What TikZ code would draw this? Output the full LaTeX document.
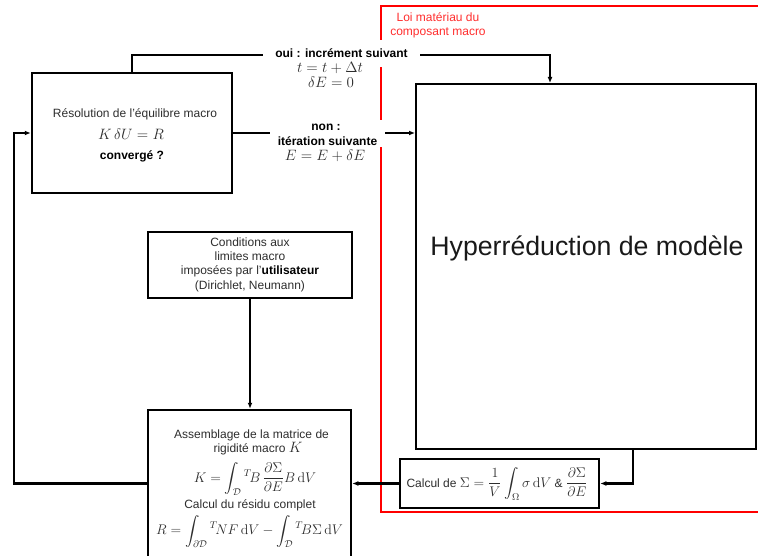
\RequirePackage{fix-cm}
\documentclass[tikz,border=0pt]{standalone}
\usepackage{amsmath}
\usepackage[no-math]{fontspec}
\setmainfont{Liberation Sans}
\usetikzlibrary{arrows.meta}
\definecolor{txt}{RGB}{45,45,45}
\definecolor{redl}{RGB}{255,0,0}
\definecolor{redt}{RGB}{255,45,45}
\newcommand{\mth}[1]{{\fontsize{15}{17}\selectfont$\displaystyle #1$}}
\newcommand{\mths}[1]{{\fontsize{14}{16}\selectfont$\displaystyle #1$}}
\begin{document}
\begin{tikzpicture}[x=1pt,y=-1pt,
  every node/.style={inner sep=0pt, text=txt, font=\fontsize{12}{14.3}\selectfont},
  boxnode/.style={draw=black, line width=2.5pt},
  bignode/.style={draw=black, line width=2pt},
  conn/.style={draw=black, line width=2.3pt, -{Latex[length=6pt,width=5pt]}},
  redframe/.style={draw=redl, line width=2.5pt},
  boldlbl/.style={text=black, font=\fontsize{12}{14.3}\selectfont\bfseries}]
\path[use as bounding box, clip] (0,0) rectangle (758,556);

% red frame
\draw[redframe] (381,6) rectangle (800,512);
\node[text=redt, align=center, font=\fontsize{12}{14.5}\selectfont] (loi) at (438,25.5) {Loi matériau du\\composant macro};

% boxes
\node[boxnode, minimum width=200pt, minimum height=120pt] (res) at (132,133) {};
\node[boxnode, minimum width=204pt, minimum height=66pt] (cond) at (250,265) {};
\node[boxnode, minimum width=203pt, minimum height=170pt] (asm) at (249.5,495) {};
\node[boxnode, minimum width=199pt, minimum height=49pt] (calc) at (499.5,483.5) {};
\node[bignode, minimum width=340pt, minimum height=365pt] (big) at (586,266.5) {};

% box texts
\node (res1) at (135,114) {Résolution de l'équilibre macro};
\node (res2) at (131,134) {\mth{K\,\delta U = R}};
\node[boldlbl] (res3) at (132,156) {convergé ?};

\node[align=center] (condt) at (250,264.5) {Conditions aux\\limites macro\\imposées par l'\textbf{\color{black}utilisateur}\\(Dirichlet, Neumann)};

\node (asm1) at (251.5,435.5) {Assemblage de la matrice de};
\node (asm2) at (258,449) {rigidité macro \mth{K}};
\node (asm3) at (255,479) {\mths{K = \int_{\mathcal{D}} {}^{T}\!B\,\frac{\partial\Sigma}{\partial E}B\,\mathrm{d}V}};
\node (asm4) at (250,505.5) {Calcul du résidu complet};
\node (asm5) at (249.5,531.5) {\mths{R = \int_{\partial\mathcal{D}} {}^{T}\!N F\,\mathrm{d}V - \int_{\mathcal{D}} {}^{T}\!B\Sigma\,\mathrm{d}V}};

\node (calct) at (497,484) {Calcul de \mths{\Sigma = \frac{1}{V}\int_{\Omega}\sigma\,\mathrm{d}V} \& \mths{\frac{\partial\Sigma}{\partial E}}};

\node[font=\fontsize{26.7}{30}\selectfont, text=black!90] (bigt) at (587,248) {Hyperréduction de modèle};

% connectors
\coordinate (topdrop) at (550,55);
\coordinate (bdrop) at (633,0);
\coordinate (lx) at (14,0);
\draw[conn] (res.north) |- (topdrop) -- (topdrop |- big.north);
\draw[conn] (res.east) -- (big.west |- res.east);
\draw[conn] (bdrop |- big.south) |- (calc.east);
\draw[conn] (calc.west) -- (asm.east |- calc.west);
\draw[conn] (cond.south) -- (cond.south |- asm.north);
\draw[conn] (asm.west |- calc.west) -| (lx |- res.west) -- (res.west);

% label backgrounds
\fill[white] (263,40) rectangle (420,67);
\fill[white] (270,120) rectangle (385,147);

% connector labels
\node[boldlbl] (oui1) at (341.5,53) {oui : incrément suivant};
\node (oui2) at (330,68) {\mth{t = t+\Delta t}};
\node (oui3) at (331,82) {\mth{\delta E = 0}};
\node[boldlbl] (non1) at (326,127.5) {non :};
\node[boldlbl] (non2) at (327.5,141) {itération suivante};
\node (non3) at (325,156) {\mth{E = E+\delta E}};
\end{tikzpicture}
\end{document}
